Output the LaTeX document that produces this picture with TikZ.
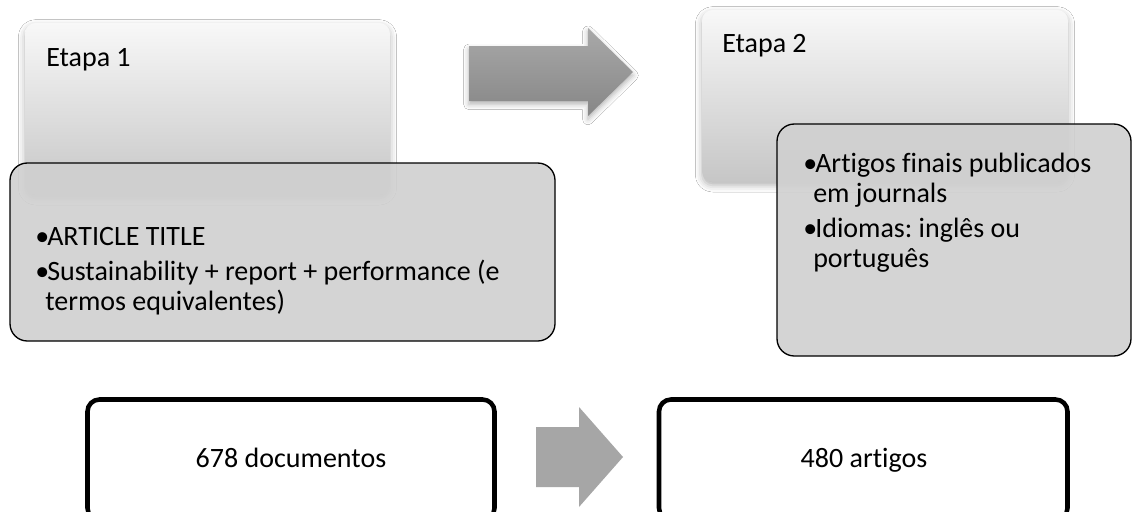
\documentclass[tikz,border=0pt]{standalone}
\usepackage{fontspec}
\setmainfont{Carlito}[Ligatures=NoCommon]
\usetikzlibrary{shadows.blur}
\definecolor{etop}{HTML}{F8F8F8}
\definecolor{ebot}{HTML}{C6C6C6}
\definecolor{gbox}{HTML}{D0D0D0}
\definecolor{atop}{HTML}{A9A9A9}
\definecolor{abot}{HTML}{868686}
\definecolor{arrflat}{HTML}{A6A6A6}
\newcommand{\bulletbox}{\makebox[9pt][l]{\textbullet}}
\tikzset{
  etapabox/.style={top color=etop, bottom color=ebot, rounded corners=8pt,
    blur shadow={shadow xshift=0pt, shadow yshift=-2.5pt, shadow blur radius=5pt, shadow opacity=30}},
  graybox/.style={fill=gbox, fill opacity=0.9, draw=black, line width=1pt, rounded corners=13pt},
  countbox/.style={draw=black, line width=3.4pt, rounded corners=9pt},
  bigarrow/.style={top color=atop, bottom color=abot,
    blur shadow={shadow xshift=0pt, shadow yshift=-2.5pt, shadow blur radius=4pt, shadow opacity=30}},
  flatarrow/.style={fill=arrflat},
  txt/.style={anchor=base west, inner sep=0pt, font=\fontsize{21pt}{22.5pt}\selectfont\frenchspacing},
  ctxt/.style={anchor=base, inner sep=0pt, font=\fontsize{21pt}{22.5pt}\selectfont\frenchspacing}
}
\begin{document}
\begin{tikzpicture}[x=0.75pt, y=-0.75pt]
\useasboundingbox (0,0) rectangle (1132,511);
\clip (0,0) rectangle (1132,511);
\fill[white] (0,0) rectangle (1132,511);

% Etapa boxes
\path[etapabox] (25,23) rectangle (390,195);
\node[txt] (etapa1) at (46,66) {Etapa 1};
\path[etapabox] (702,10) rectangle (1068,182);
\node[txt] (etapa2) at (722,52) {Etapa 2};

% top arrow
\path[bigarrow] (469,46) -- (588,46) -- (588,28) -- (633,72) -- (588,116) -- (588,101) -- (469,101) -- cycle;

% gray boxes
\path[graybox] (10,163) rectangle (555,341);
\node[txt] (a1) at (35,245) {\bulletbox ARTICLE TITLE};
\node[txt] (a2) at (35,280) {\bulletbox Sustainability + report + performance (e};
\node[txt] (a3) at (45,310) {termos equivalentes)};

\path[graybox] (777,124) rectangle (1131,356);
\node[txt] (b1) at (803,172) {\bulletbox Artigos finais publicados};
\node[txt] (b2) at (813,202) {em journals};
\node[txt] (b3) at (803,237) {\bulletbox Idiomas: inglês ou};
\node[txt] (b4) at (813,267) {português};

% bottom boxes
\path[countbox] (87.5,399.5) rectangle (494.5,520);
\node[ctxt] (docs) at (291,467) {678 documentos};
\path[countbox] (659,399.5) rectangle (1067.5,520);
\node[ctxt] (arts) at (864,467) {480 artigos};

% bottom arrow
\path[flatarrow] (536,427) -- (579,427) -- (579,407) -- (623,457) -- (579,507) -- (579,487) -- (536,487) -- cycle;
\end{tikzpicture}
\end{document}
